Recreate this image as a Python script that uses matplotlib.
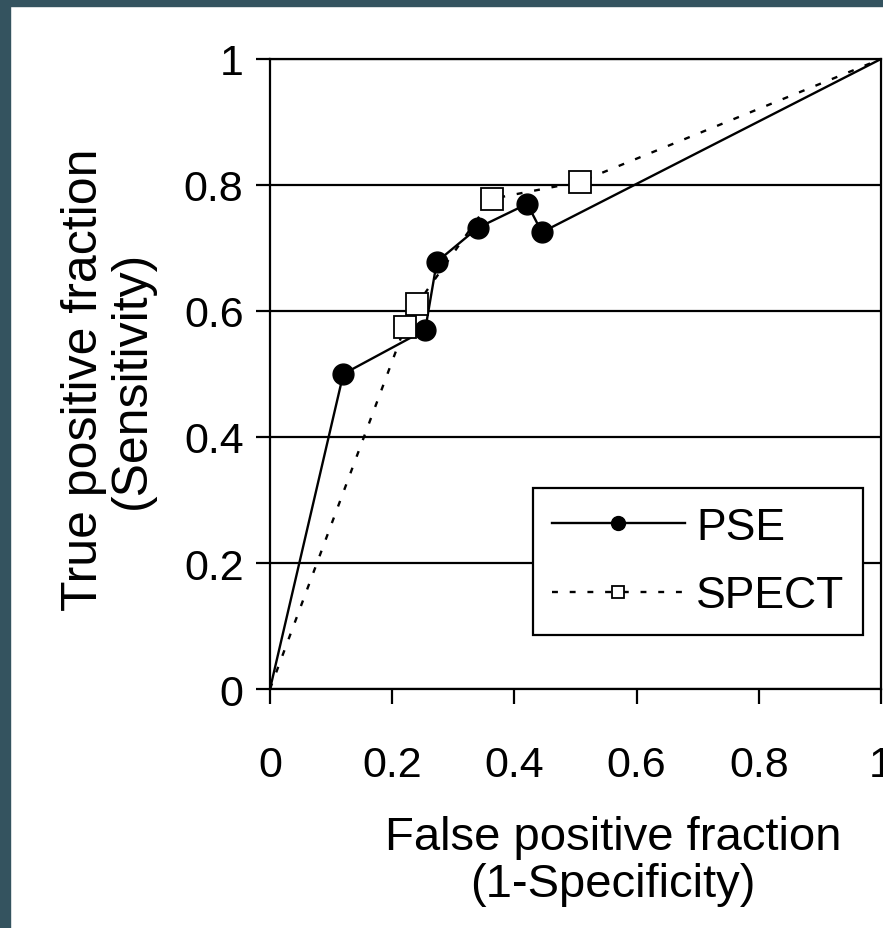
import matplotlib

matplotlib.use("Agg")
import matplotlib.pyplot as plt
from matplotlib.patches import Rectangle

plt.rcParams["font.family"] = ["Liberation Sans", "DejaVu Sans"]

# ROC points
pse_fpf = [0.0, 0.120, 0.254, 0.273, 0.340, 0.421, 0.445, 1.0]
pse_tpf = [0.0, 0.500, 0.570, 0.678, 0.732, 0.770, 0.725, 1.0]

spect_fpf = [0.0, 0.221, 0.241, 0.363, 0.507, 1.0]
spect_tpf = [0.0, 0.575, 0.611, 0.778, 0.805, 1.0]

ticks = [0, 0.2, 0.4, 0.6, 0.8, 1]
tick_labels = ["0", "0.2", "0.4", "0.6", "0.8", "1"]

fig = plt.figure(figsize=(8.83, 9.29), dpi=100)
fig.patch.set_facecolor("white")

# dark frame strip on left and top edges
border = "#34535f"
fig.patches.append(Rectangle((0, 0), 10 / 883, 1, transform=fig.transFigure,
                             color=border, zorder=0))
fig.patches.append(Rectangle((0, 1 - 7 / 929), 1, 7 / 929, transform=fig.transFigure,
                             color=border, zorder=0))

ax = fig.add_axes([270 / 883, 1 - 690 / 929, 611 / 883, 630 / 929])

# no markers on the (0,0) and (1,1) end points
ax.plot(pse_fpf, pse_tpf, color="black", linewidth=1.7, marker="o",
        markersize=15, markerfacecolor="black", markevery=slice(1, -1),
        label="PSE", zorder=3)
ax.plot(spect_fpf, spect_tpf, color="black", linewidth=1.7, linestyle=(0, (2.5, 5)),
        marker="s", markersize=15.5, markerfacecolor="white",
        markeredgecolor="black", markeredgewidth=1.3, markevery=slice(1, -1),
        label="SPECT", zorder=3)

ax.set_xlim(0, 1)
ax.set_ylim(0, 1)
ax.set_xticks(ticks)
ax.set_xticklabels(tick_labels)
ax.set_yticks(ticks)
ax.set_yticklabels(tick_labels)

ax.yaxis.grid(True, color="black", linewidth=1.6)
ax.set_axisbelow(True)

for s in ax.spines.values():
    s.set_linewidth(1.6)
    s.set_color("black")

ax.tick_params(axis="x", direction="out", length=11, width=1.6, pad=29, labelsize=31)
ax.tick_params(axis="y", direction="out", length=10, width=1.6, pad=9, labelsize=31)

ax.set_xlabel("False positive fraction\n(1-Specificity)", fontsize=34, linespacing=1.1)
ax.xaxis.set_label_coords(0.561, -0.2)
ax.set_ylabel("True positive fraction\n(Sensitivity)", fontsize=36, linespacing=1.05)
ax.yaxis.set_label_coords(-0.188, 0.492)

leg = ax.legend(loc="lower right", bbox_to_anchor=(0.9705, 0.0857), fontsize=32,
                frameon=True, fancybox=False, borderaxespad=0, handlelength=3.0,
                handletextpad=0.25, borderpad=0.42, labelspacing=0.62,
                edgecolor="black", framealpha=1)
leg.get_frame().set_linewidth(1.6)
leg.legend_handles[0].set_markersize(10)
leg.legend_handles[1].set_markersize(8.5)

fig.savefig("out.png", dpi=100, facecolor="white")
